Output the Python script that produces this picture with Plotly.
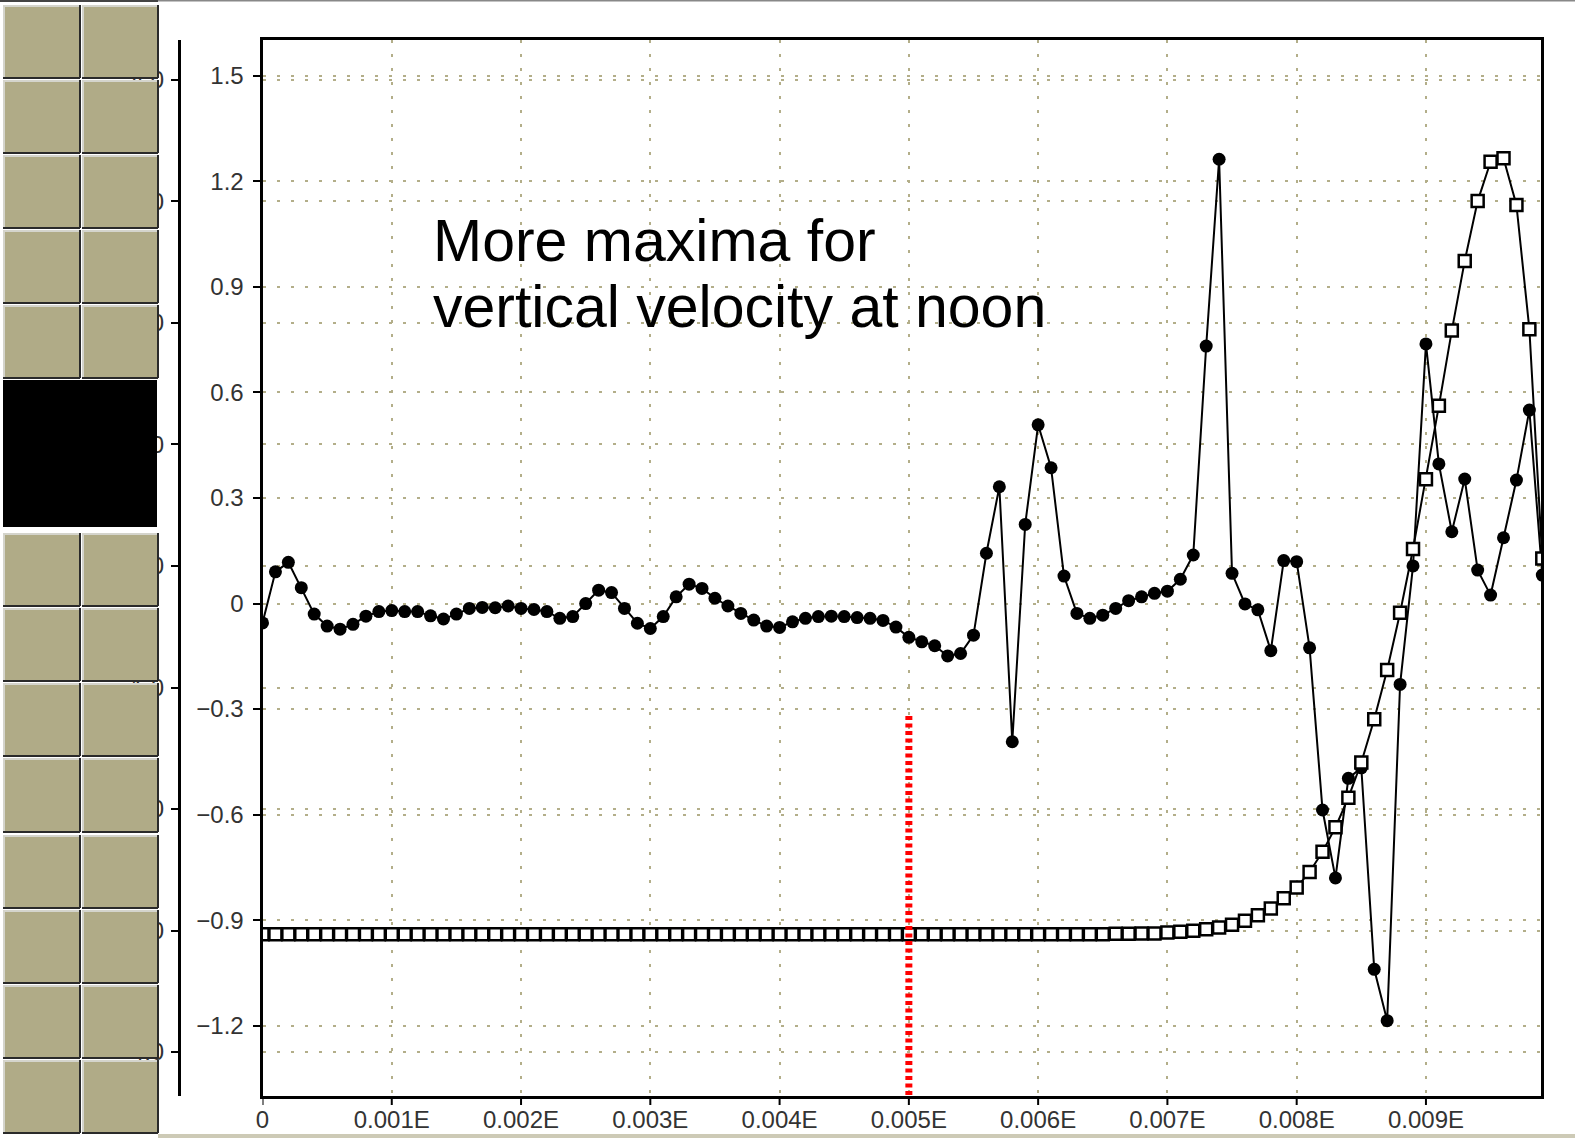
import plotly.graph_objects as go

# ---------------- data ----------------
X_STEP = 0.0001
X = [round(i * X_STEP, 4) for i in range(100)]

CIRCLES = [
    -0.055, 0.090, 0.117, 0.045, -0.030, -0.064, -0.073, -0.059, -0.036, -0.023,
    -0.020, -0.023, -0.023, -0.035, -0.044, -0.030, -0.014, -0.011, -0.012, -0.007,
    -0.014, -0.017, -0.023, -0.042, -0.037, 0.000, 0.038, 0.031, -0.014, -0.056,
    -0.071, -0.037, 0.019, 0.055, 0.043, 0.015, -0.007, -0.028, -0.047, -0.064,
    -0.068, -0.052, -0.042, -0.037, -0.036, -0.037, -0.040, -0.042, -0.048, -0.067,
    -0.096, -0.109, -0.120, -0.149, -0.142, -0.090, 0.143, 0.332, -0.393, 0.225,
    0.508, 0.386, 0.078, -0.028, -0.042, -0.033, -0.014, 0.008, 0.019, 0.029,
    0.035, 0.069, 0.138, 0.732, 1.263, 0.086, -0.001, -0.018, -0.134, 0.122,
    0.119, -0.126, -0.587, -0.780, -0.497, -0.467, -1.040, -1.186, -0.230, 0.107,
    0.738, 0.397, 0.204, 0.354, 0.095, 0.024, 0.187, 0.351, 0.550, 0.081,
]

SQUARES = [
    -0.940, -0.940, -0.940, -0.940, -0.940, -0.940, -0.940, -0.940, -0.940, -0.940,
    -0.940, -0.940, -0.940, -0.940, -0.940, -0.940, -0.940, -0.940, -0.940, -0.940,
    -0.940, -0.940, -0.940, -0.940, -0.940, -0.940, -0.940, -0.940, -0.940, -0.940,
    -0.940, -0.940, -0.940, -0.940, -0.940, -0.940, -0.940, -0.940, -0.940, -0.940,
    -0.940, -0.940, -0.940, -0.940, -0.940, -0.940, -0.940, -0.940, -0.940, -0.940,
    -0.940, -0.940, -0.940, -0.940, -0.940, -0.940, -0.940, -0.940, -0.940, -0.940,
    -0.940, -0.940, -0.940, -0.940, -0.940, -0.940, -0.939, -0.939, -0.938, -0.938,
    -0.935, -0.933, -0.930, -0.926, -0.921, -0.913, -0.902, -0.886, -0.867, -0.838,
    -0.807, -0.763, -0.706, -0.636, -0.552, -0.452, -0.329, -0.189, -0.026, 0.155,
    0.353, 0.562, 0.776, 0.974, 1.144, 1.256, 1.266, 1.133, 0.780, 0.128,
]

X_TICKS = [0, 0.001, 0.002, 0.003, 0.004, 0.005, 0.006, 0.007, 0.008, 0.009]
X_TICK_TEXT = ["0", "0.001E", "0.002E", "0.003E", "0.004E", "0.005E",
               "0.006E", "0.007E", "0.008E", "0.009E"]
Y_TICKS = [1.5, 1.2, 0.9, 0.6, 0.3, 0, -0.3, -0.6, -0.9, -1.2]
Y_TICK_TEXT = ["1.5", "1.2", "0.9", "0.6", "0.3", "0",
               "\u22120.3", "\u22120.6", "\u22120.9", "\u22121.2"]
# outer (mostly hidden) axis
Y2_TICKS = [4, 3, 2, 1, 0, -1, -2, -3, -4]
Y2_TICK_TEXT = ["4.0", "3.0", "2.0", "1.0", "0.0", "\u22121.0", "\u22122.0", "\u22123.0", "\u22124.0"]

REF_X = 0.005
REF_Y_TOP = -0.32

NOTE_LINES = ["More maxima for", "vertical velocity at noon"]

# ---------------- layout helpers ----------------
W, H = 1575, 1138
ML, MR, MT, MB = 0, 34, 40, 42
PW = W - ML - MR
PH = H - MT - MB


def px(x):
    return (x - ML) / PW


def py(y):
    return 1 - (y - MT) / PH


GRID_COLOR = "#b3ae89"
GRID_DASH = "3px,11px"
TICK_FONT = dict(family="Liberation Sans, Arial, sans-serif", size=24, color="#333333")

fig = go.Figure()

fig.add_trace(go.Scatter(
    x=X, y=CIRCLES, mode="lines+markers",
    line=dict(color="black", width=2),
    marker=dict(symbol="circle", size=13, color="black"),
    hoverinfo="skip", showlegend=False, cliponaxis=True,
))
fig.add_trace(go.Scatter(
    x=X, y=SQUARES, mode="lines+markers",
    line=dict(color="black", width=2),
    marker=dict(symbol="square", size=12, color="white",
                line=dict(color="black", width=2.5)),
    hoverinfo="skip", showlegend=False, cliponaxis=True,
))
# anchor trace for the outer axis
fig.add_trace(go.Scatter(x=[None], y=[None], yaxis="y2", mode="markers",
                         showlegend=False, hoverinfo="skip"))

x_dom0 = px(262.5)

fig.update_layout(
    width=W, height=H,
    margin=dict(l=ML, r=MR, t=MT, b=MB, pad=0, autoexpand=False),
    paper_bgcolor="white", plot_bgcolor="white",
    showlegend=False,
    xaxis=dict(
        domain=[x_dom0, 1], range=[0, 0.00989],
        tickmode="array", tickvals=X_TICKS, ticktext=X_TICK_TEXT,
        showgrid=True, gridcolor=GRID_COLOR, griddash=GRID_DASH, gridwidth=1.5,
        ticks="",
        showline=True, linewidth=3, linecolor="black", mirror=True,
        zeroline=False, tickfont=TICK_FONT, automargin=False,
    ),
    yaxis=dict(
        range=[-1.4, 1.602],
        tickmode="array", tickvals=Y_TICKS, ticktext=Y_TICK_TEXT,
        showgrid=True, gridcolor=GRID_COLOR, griddash=GRID_DASH, gridwidth=1.5,
        ticks="outside", ticklen=7, tickwidth=2, tickcolor="black",
        ticklabelstandoff=4,
        showline=True, linewidth=3, linecolor="black", mirror=True,
        zeroline=False, tickfont=TICK_FONT, automargin=False,
    ),
    yaxis2=dict(
        overlaying="y", anchor="free", position=px(179), side="left",
        range=[-4.362, 4.329],
        tickmode="array", tickvals=Y2_TICKS, ticktext=Y2_TICK_TEXT,
        showgrid=True, gridcolor=GRID_COLOR, griddash=GRID_DASH, gridwidth=1.5,
        ticks="outside", ticklen=7, tickwidth=2, tickcolor="black",
        ticklabelstandoff=2,
        showline=True, linewidth=3, linecolor="black",
        zeroline=False, tickfont=TICK_FONT, automargin=False,
    ),
)

shapes = []
# x tick marks (outside, below the frame)
for xv in X_TICKS:
    shapes.append(dict(type="line", xref="x", yref="paper", x0=xv, x1=xv,
                       y0=py(1096), y1=py(1105),
                       line=dict(color="black", width=2), layer="above"))
# red dotted reference line
shapes.append(dict(type="line", xref="x", yref="y", x0=REF_X, x1=REF_X,
                   y0=REF_Y_TOP, y1=-1.4,
                   line=dict(color="#ff0000", width=7, dash="4px,3.5px"),
                   layer="above"))

# left button panel
BTN_FILL = "#b0ab87"
cols = [(3, 80), (82, 158)]
rows_top = [(5, 78), (80, 153), (155, 228), (230, 303), (305, 378)]
rows_bot = [(533, 606), (608, 681), (683, 756), (758, 832), (835, 908),
            (910, 983), (985, 1058), (1060, 1133)]
for (r0, r1) in rows_top + rows_bot:
    for (c0, c1) in cols:
        shapes.append(dict(type="rect", xref="paper", yref="paper",
                           x0=px(c0), x1=px(c1), y0=py(r1), y1=py(r0),
                           fillcolor=BTN_FILL, line=dict(width=0), layer="above"))
        # light top / left
        shapes.append(dict(type="line", xref="paper", yref="paper",
                           x0=px(c0), x1=px(c1), y0=py(r0 + 1), y1=py(r0 + 1),
                           line=dict(color="#d4d4cc", width=2), layer="above"))
        shapes.append(dict(type="line", xref="paper", yref="paper",
                           x0=px(c0 + 1), x1=px(c0 + 1), y0=py(r1), y1=py(r0),
                           line=dict(color="#d4d4cc", width=2), layer="above"))
        # dark bottom / right
        shapes.append(dict(type="line", xref="paper", yref="paper",
                           x0=px(c0), x1=px(c1), y0=py(r1), y1=py(r1),
                           line=dict(color="#2a2a2a", width=2), layer="above"))
        shapes.append(dict(type="line", xref="paper", yref="paper",
                           x0=px(c1), x1=px(c1), y0=py(r1), y1=py(r0),
                           line=dict(color="#2a2a2a", width=2), layer="above"))
# black block
shapes.append(dict(type="rect", xref="paper", yref="paper",
                   x0=px(3), x1=px(157), y0=py(527), y1=py(380),
                   fillcolor="black", line=dict(width=0), layer="above"))
# top border and bottom strip
shapes.append(dict(type="line", xref="paper", yref="paper",
                   x0=px(158), x1=px(W), y0=py(0.8), y1=py(0.8),
                   line=dict(color="#888888", width=1.5), layer="above"))
shapes.append(dict(type="line", xref="paper", yref="paper",
                   x0=px(0), x1=px(158), y0=py(1), y1=py(1),
                   line=dict(color="#444444", width=2), layer="above"))
shapes.append(dict(type="rect", xref="paper", yref="paper",
                   x0=px(158), x1=px(W), y0=py(H), y1=py(1134),
                   fillcolor="#cdcab6", line=dict(width=0), layer="above"))
fig.update_layout(shapes=shapes)

# annotation text
NOTE_FONT = dict(family="Liberation Sans, Arial, sans-serif", size=59, color="black")
for line, base in zip(NOTE_LINES, [262, 328]):
    fig.add_annotation(xref="paper", yref="paper", x=px(432), y=py(base + 13),
                       xanchor="left", yanchor="bottom", text=line,
                       showarrow=False, font=NOTE_FONT, borderpad=0)

fig.write_html("out.html")
